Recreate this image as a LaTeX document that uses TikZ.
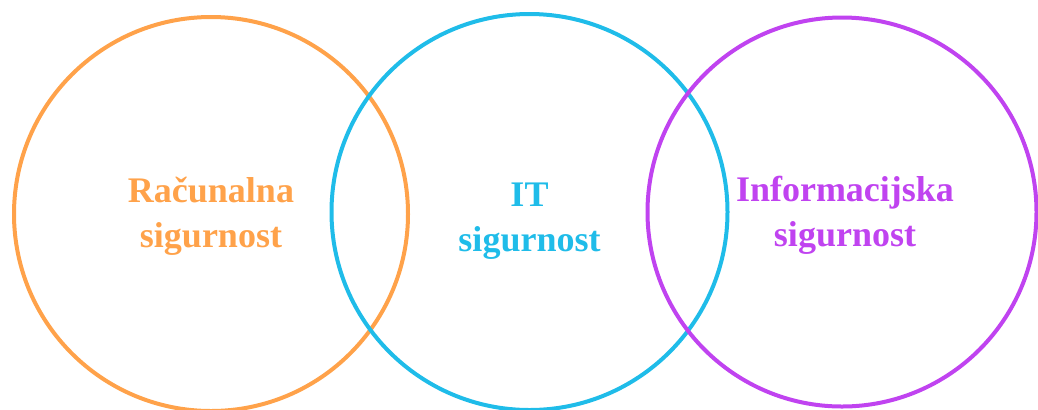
\documentclass[tikz,border=0pt]{standalone}
\usepackage{fontspec}
\setmainfont{Liberation Serif}
\usepackage{xcolor}
\definecolor{orange}{HTML}{FFA24A}
\definecolor{cyan}{HTML}{1FBCE9}
\definecolor{purple}{HTML}{C043F0}
\usetikzlibrary{positioning}

\begin{document}
\begin{tikzpicture}[every node/.style={font=\bfseries\fontsize{18}{22.5}\selectfont, align=center}]
  \useasboundingbox (0,0) rectangle (519pt,-204.5pt);
  % Computer security circle
  \node[draw=orange, line width=2pt, circle, minimum size=197pt, inner sep=0pt] (racunalna) at (105.5pt,-107pt) {};
  % IT security circle
  \node[draw=cyan, line width=2pt, circle, minimum size=198pt, inner sep=0pt] (it) at (264.75pt,-106pt) {};
  % Information security circle
  \node[draw=purple, line width=2pt, circle, minimum size=194.5pt, inner sep=0pt] (info) at (421pt,-106pt) {};

  % Labels inside the circles
  \node[text=orange] (racunalnatext) at ([yshift=-1pt]racunalna.center) {Računalna\\sigurnost};
  \node[text=cyan] (ittext) at ([yshift=-4.5pt]it.center) {IT\\sigurnost};
  \node[text=purple] (infotext) at ([xshift=1.5pt,yshift=-1.5pt]info.center) {Informacijska\\sigurnost};
\end{tikzpicture}
\end{document}
